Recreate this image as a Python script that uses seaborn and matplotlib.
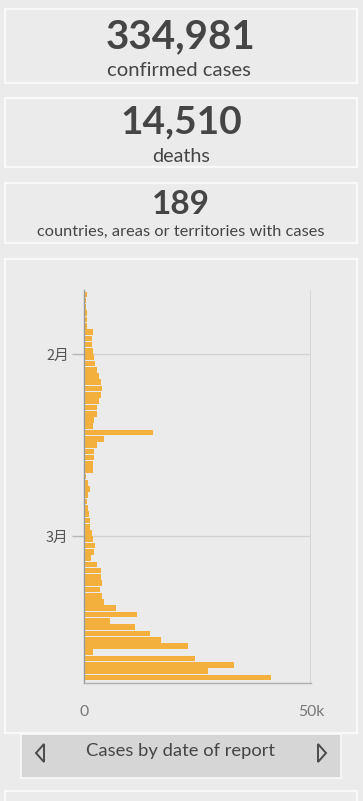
import matplotlib
matplotlib.use("Agg")
import matplotlib.pyplot as plt
import matplotlib.dates as mdates
from matplotlib.patches import Rectangle, Polygon
import numpy as np
import pandas as pd
import seaborn as sns

# ---- data ----
start_date = "2020-01-22"
end_date = "2020-03-23"
jan_cases = [700, 450, 450, 600, 700, 700, 2000, 1750, 1750, 1900]
feb_cases = [2200, 2500, 2900, 3400, 3800, 3900, 3700, 3200, 2900, 2800,
             2300, 2000, 15200, 4300, 2900, 2300, 2200, 2000, 1900, 450,
             900, 1300, 900, 600, 900, 1000, 1300, 1300, 1800]
mar_cases = [1900, 2400, 2200, 1500, 2900, 3700, 3700, 4000, 3500, 4000,
             4500, 7100, 11700, 5800, 11300, 14500, 17000, 23000, 2000,
             24500, 33000, 27300, 41100]
month_ticks = ["2020-02-01", "2020-03-01"]
month_labels = ["2月", "3月"]
x_ticks = [0, 50000]
x_labels = ["0", "50k"]
kpi_values = ["334,981", "14,510", "189"]
kpi_labels = ["confirmed cases", "deaths", "countries, areas or territories with cases"]
nav_title = "Cases by date of report"

dates = pd.date_range(start_date, end_date, freq="D")
cases = jan_cases + feb_cases + mar_cases
df = pd.DataFrame({"date": dates, "cases": cases})
df["pos"] = mdates.date2num(df["date"]) + 0.5

W, H = 363, 801
BG = "#ebebeb"
BORDER = "#f9f9f9"
TXT = "#454545"
BAR = "#f4b03d"

sns.set_theme(style="white")
plt.rcParams["font.family"] = ["Lato", "Noto Sans CJK SC", "DejaVu Sans"]

fig = plt.figure(figsize=(W / 100, H / 100), dpi=100, facecolor=BG)
bg = fig.add_axes([0, 0, 1, 1])
bg.set_xlim(0, W)
bg.set_ylim(H, 0)
bg.axis("off")
bg.set_facecolor(BG)

def card(x0, y0, x1, y1, fc=BG, ec=BORDER, lw=1.6):
    bg.add_patch(Rectangle((x0, y0), x1 - x0, y1 - y0, facecolor=fc,
                           edgecolor=ec, linewidth=lw))

card(4.5, 8.5, 357, 83)
card(4.5, 97.5, 357, 167)
card(4.5, 182.5, 357, 243)
card(4.5, 258.5, 357, 733)
card(21, 734, 341, 778, fc="#d6d6d6", ec=BORDER, lw=1.2)
card(4.5, 790.5, 357, 830)

# KPI texts
bg.text(181, 37, kpi_values[0], ha="center", va="center", fontsize=29,
        fontweight="bold", color=TXT)
bg.text(179, 70, kpi_labels[0], ha="center", va="center", fontsize=14.6,
        color=TXT)
bg.text(181, 122, kpi_values[1], ha="center", va="center", fontsize=28,
        fontweight="bold", color=TXT)
bg.text(181, 156, kpi_labels[1], ha="center", va="center", fontsize=14.2,
        color=TXT)
bg.text(181, 204, kpi_values[2], ha="center", va="center", fontsize=24,
        fontweight="bold", color=TXT)
bg.text(181, 232, kpi_labels[2], ha="center", va="center", fontsize=11.8,
        color=TXT)

# nav bar
bg.text(181, 751, nav_title, ha="center", va="center", fontsize=13.2,
        color=TXT)
bg.add_patch(Polygon([[44, 744], [44, 762], [36, 753]], closed=True,
                     fill=False, edgecolor="#4a4a4a", linewidth=1.4))
bg.add_patch(Polygon([[318, 744], [318, 762], [326, 753]], closed=True,
                     fill=False, edgecolor="#4a4a4a", linewidth=1.4))

# chart axes
ax_l, ax_r, ax_t, ax_b = 84, 311, 290, 683
ax = fig.add_axes([ax_l / W, 1 - ax_b / H, (ax_r - ax_l) / W, (ax_b - ax_t) / H])
ax.set_facecolor(BG)
sns.barplot(data=df, x="cases", y="pos", orient="h", native_scale=True,
            color=BAR, saturation=1, width=0.9, linewidth=0, ax=ax)

y_top = mdates.date2num(pd.Timestamp("2020-02-01")) - 10.2
y_bot = mdates.date2num(pd.Timestamp("2020-03-01")) + 23.4
ax.set_ylim(y_bot, y_top)
ax.set_xlim(0, 50000)

tick_pos = mdates.date2num(pd.to_datetime(month_ticks))
ax.set_yticks(tick_pos)
ax.set_yticklabels(month_labels, fontsize=10.5, color="#555555",
                   family=["Noto Sans CJK SC", "DejaVu Sans"])
ax.set_xticks(x_ticks)
ax.set_xticklabels(x_labels, fontsize=11.3, color="#777777")
ax.set_xlabel("")
ax.set_ylabel("")
ax.grid(axis="y", color="#d2d2d2", linewidth=1)
ax.axvline(50000, color="#d2d2d2", linewidth=1.2, zorder=0)
ax.set_axisbelow(True)
for s in ["top", "right"]:
    ax.spines[s].set_visible(False)
ax.spines["left"].set_color("#9a9a9a")
ax.spines["left"].set_linewidth(1)
ax.spines["bottom"].set_color("#b0b0b0")
ax.spines["bottom"].set_linewidth(1)
ax.tick_params(axis="y", length=9, width=1, color="#b5b5b5", pad=2, left=True)
ax.tick_params(axis="x", length=0, pad=16)

fig.savefig("out.png", dpi=100, facecolor=BG)
